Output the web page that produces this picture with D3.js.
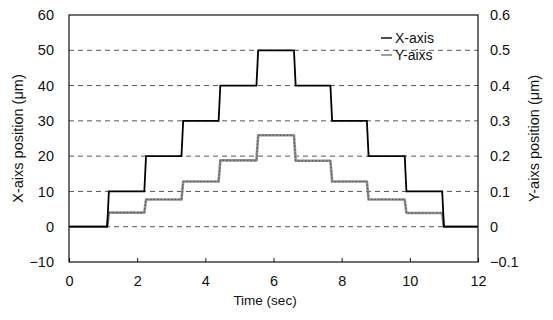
<!DOCTYPE html>
<html>
<head>
<meta charset="utf-8">
<script src="https://cdn.jsdelivr.net/npm/d3@7"></script>
<style>
  html, body { margin: 0; padding: 0; background: #fff; }
  svg { display: block; font-family: "Liberation Sans", Arial, sans-serif; }
</style>
</head>
<body>
<svg id="chart" width="553" height="320"></svg>
<script>
// Stage positions recorded during the step test
const timeSec = [0, 1.12, 1.17, 2.21, 2.26, 3.30, 3.35, 4.39, 4.44, 5.50, 5.55,
                 6.60, 6.65, 7.67, 7.72, 8.74, 8.79, 9.85, 9.90, 10.95, 11.00, 12.0];
const xAxisPos = [0, 0, 10, 10, 20, 20, 30, 30, 40, 40, 50,
                  50, 40, 40, 30, 30, 20, 20, 10, 10, 0, 0];
const yAxisPos = [0, 0, 0.040, 0.040, 0.077, 0.077, 0.128, 0.128, 0.188, 0.188, 0.259,
                  0.259, 0.187, 0.187, 0.128, 0.128, 0.077, 0.077, 0.039, 0.039, 0, 0];

const timeTicks = [0, 2, 4, 6, 8, 10, 12];
const leftTicks = [-10, 0, 10, 20, 30, 40, 50, 60];
const rightTicks = [-0.1, 0, 0.1, 0.2, 0.3, 0.4, 0.5, 0.6];
const gridTicks = [0, 10, 20, 30, 40, 50];
const seriesNames = ["X-axis", "Y-aixs"];

const svg = d3.select("#chart");
const plot = { left: 69, right: 478, top: 15, bottom: 262 };

const x = d3.scaleLinear().domain([0, 12]).range([plot.left, plot.right]);
const yL = d3.scaleLinear().domain([-10, 60]).range([plot.bottom, plot.top]);
const yR = d3.scaleLinear().domain([-0.1, 0.6]).range([plot.bottom, plot.top]);

// dashed horizontal grid
svg.append("g").selectAll("line").data(gridTicks).join("line")
  .attr("x1", plot.left).attr("x2", plot.right)
  .attr("y1", d => yL(d)).attr("y2", d => yL(d))
  .attr("stroke", "#444").attr("stroke-width", 0.9)
  .attr("stroke-dasharray", "5,4");

// axes
const fontSize = 14.5;
const gx = svg.append("g").attr("transform", `translate(0,${plot.bottom})`)
  .call(d3.axisBottom(x).tickValues(timeTicks).tickSizeInner(-4).tickSizeOuter(0).tickPadding(14)
    .tickFormat(d3.format("d")));
const gl = svg.append("g").attr("transform", `translate(${plot.left},0)`)
  .call(d3.axisLeft(yL).tickValues(leftTicks).tickSize(0).tickPadding(15).tickFormat(d3.format("d")));
const gr = svg.append("g").attr("transform", `translate(${plot.right},0)`)
  .call(d3.axisRight(yR).tickValues(rightTicks).tickSize(0).tickPadding(12)
    .tickFormat(d => d === 0 ? "0" : d3.format(".1f")(d)));
[gx, gl, gr].forEach(g => {
  g.select(".domain").remove();
  g.selectAll("text").attr("font-size", fontSize).attr("fill", "#111")
    .attr("font-family", "Liberation Sans, Arial, sans-serif");
  g.selectAll("line").attr("stroke", "#111");
});

// frame
svg.append("rect")
  .attr("x", plot.left).attr("y", plot.top)
  .attr("width", plot.right - plot.left).attr("height", plot.bottom - plot.top)
  .attr("fill", "none").attr("stroke", "#111").attr("stroke-width", 1.2);

// series
const pts = timeSec.map((t, i) => ({ t, xa: xAxisPos[i], ya: yAxisPos[i] }));
const lineY = d3.line().x(d => x(d.t)).y(d => yR(d.ya));
const lineX = d3.line().x(d => x(d.t)).y(d => yL(d.xa));

svg.append("path").datum(pts).attr("d", lineY)
  .attr("fill", "none").attr("stroke", "#909090").attr("stroke-width", 2.6)
  .attr("stroke-linejoin", "round");
svg.append("path").datum(pts).attr("d", lineY)
  .attr("fill", "none").attr("stroke", "#4a4a4a").attr("stroke-width", 0.9)
  .attr("stroke-dasharray", "1.5,2");
svg.append("path").datum(pts).attr("d", lineX)
  .attr("fill", "none").attr("stroke", "#000").attr("stroke-width", 1.8)
  .attr("stroke-linejoin", "miter");

// legend
const legend = svg.append("g").attr("transform", "translate(381,38)");
const legendColors = ["#000", "#777"];
seriesNames.forEach((name, i) => {
  const g = legend.append("g").attr("transform", `translate(0,${i * 17})`);
  g.append("line").attr("x1", 0).attr("x2", 11).attr("y1", 0).attr("y2", 0)
    .attr("stroke", legendColors[i]).attr("stroke-width", 1.4);
  g.append("text").attr("x", 14).attr("y", 0).attr("dy", "0.35em")
    .attr("font-size", 14).attr("fill", "#111").text(name);
});

// axis titles
svg.append("text").attr("x", 265).attr("y", 305)
  .attr("text-anchor", "middle").attr("font-size", 13.5).attr("fill", "#111").text("Time (sec)");
svg.append("text").attr("transform", `translate(23,${(plot.top + plot.bottom) / 2}) rotate(-90)`)
  .attr("text-anchor", "middle").attr("font-size", 14.5).attr("fill", "#111").text("X-aixs position (μm)");
svg.append("text").attr("transform", `translate(539,${(plot.top + plot.bottom) / 2}) rotate(-90)`)
  .attr("text-anchor", "middle").attr("font-size", 14.5).attr("fill", "#111").text("Y-aixs position (μm)");
</script>
</body>
</html>
